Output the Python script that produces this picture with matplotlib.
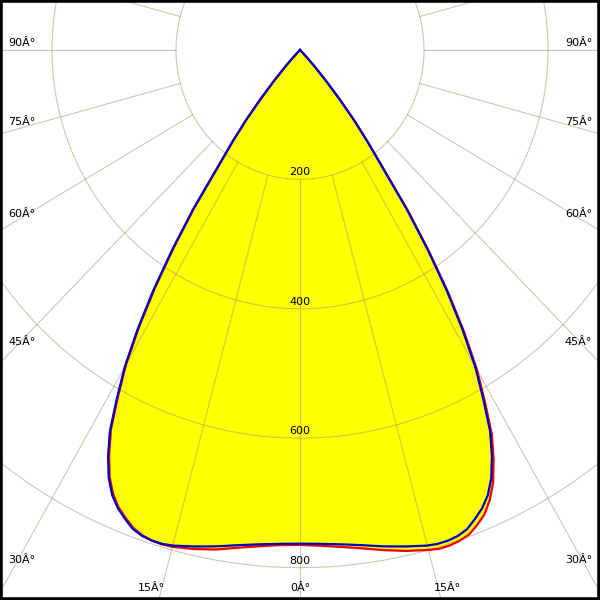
import numpy as np
import matplotlib
matplotlib.use("Agg")
import matplotlib.pyplot as plt
from matplotlib.patches import Rectangle

# gamma angles (deg) and luminous intensity (cd) per C-plane
gamma = [0, 2.5, 5, 7.5, 10, 12.5,
         15, 16.25, 17.5, 18.75, 20, 21.25, 22.5, 23.75, 25, 26.25, 27.5,
         28.75, 30, 31.25, 32.5, 33.75, 35, 36.25, 37.5, 38.75, 40, 41.25,
         42.5, 43.75, 45, 46.25, 47.5,
         50, 60, 70, 80, 90]
c0 = [765, 767, 771, 777, 785, 793,
      800, 803, 803, 801, 797, 788, 777, 760, 737, 706, 670,
      620, 571, 511, 446, 375, 305, 228, 182, 141, 100, 65,
      38, 20, 8, 2, 0,
      0, 0, 0, 0, 0]
c180 = [765, 766, 770, 776, 784, 790,
        795, 796, 795, 792, 786, 776, 765, 749, 727, 696, 660,
        610, 561, 500, 434, 364, 296, 222, 178, 139, 98, 64,
        37, 20, 8, 2, 0,
        0, 0, 0, 0, 0]
c90 = [763, 764, 767, 772, 779, 786,
       793, 795, 795, 793, 788, 778, 767, 752, 730, 700, 664,
       614, 565, 505, 440, 370, 300, 225, 180, 140, 100, 65,
       38, 20, 8, 2, 0,
       0, 0, 0, 0, 0]
c270 = c90

rings = [200, 400, 600, 800]
ring_labels = ["200", "400", "600", "800"]
spokes = np.arange(0, 360, 15)

# pixel scale of the original (slightly squashed horizontally)
sx, sy = 0.62, 0.647
cx, cy = 300, 50


def plane(left, right):
    g = np.array(gamma, dtype=float)
    th = np.concatenate([-g[::-1], g[1:]])
    r = np.concatenate([np.array(left)[::-1], np.array(right)[1:]])
    t = np.radians(th)
    return r * np.sin(t), -r * np.cos(t)


fig = plt.figure(figsize=(6, 6), dpi=100)
ax = fig.add_axes([0, 0, 1, 1])
ax.set_xlim(-cx / sx, (600 - cx) / sx)
ax.set_ylim(-(600 - cy) / sy, cy / sy)
ax.axis("off")

xr, yr = plane(c180, c0)
xb, yb = plane(c270, c90)
ax.fill(xr, yr, color="#ffff00", zorder=1, lw=0)

grid_kw = dict(color="#a09070", alpha=0.5, lw=0.8, zorder=2)
t = np.linspace(0, 2 * np.pi, 400)
for r in rings:
    ax.plot(r * np.cos(t), r * np.sin(t), **grid_kw)
for a in spokes:
    ar = np.radians(a)
    ax.plot([200 * np.sin(ar), 2000 * np.sin(ar)],
            [-200 * np.cos(ar), -2000 * np.cos(ar)], **grid_kw)

for r, lab in zip(rings, ring_labels):
    ax.text(0, -r + 2 / sy, lab, ha="center", va="bottom", fontsize=8, zorder=3)

ax.plot(xr, yr, color="#ee0000", lw=1.6, zorder=4, solid_joinstyle="round")
ax.plot(xb, yb, color="#0000cc", lw=1.6, zorder=5, solid_joinstyle="round")

# angle labels (pixel positions taken from the original layout)
side_labels = [("90Â°", 43), ("75Â°", 122), ("60Â°", 214), ("45Â°", 342), ("30Â°", 560)]
for lab, py in side_labels:
    fig.text(8 / 600, 1 - py / 600, lab, ha="left", va="center", fontsize=8)
    fig.text(592 / 600, 1 - py / 600, lab, ha="right", va="center", fontsize=8)
bottom_labels = [("15Â°", 151), ("0Â°", 300), ("15Â°", 447)]
for lab, px in bottom_labels:
    fig.text(px / 600, 1 - 588 / 600, lab, ha="center", va="center", fontsize=8)

fig.patches.append(Rectangle((0, 0), 1, 1, transform=fig.transFigure,
                             fill=False, edgecolor="black", lw=4))

fig.savefig("out.png", dpi=100)
